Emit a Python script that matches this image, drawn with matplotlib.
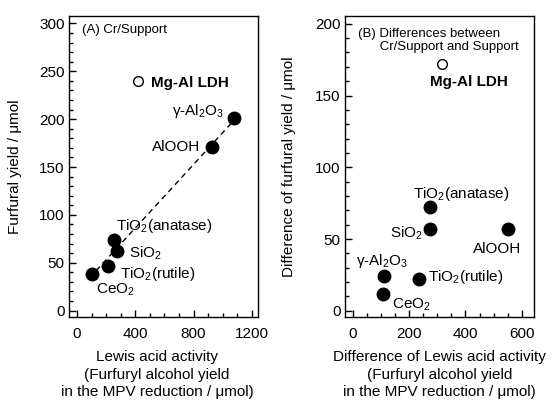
import numpy as np
import matplotlib
matplotlib.use('Agg')
import matplotlib.pyplot as plt
from matplotlib.ticker import MultipleLocator

plt.rcParams['font.family'] = ['Liberation Sans', 'DejaVu Sans']
plt.rcParams['mathtext.fontset'] = 'custom'
plt.rcParams['mathtext.rm'] = 'Liberation Sans'
plt.rcParams['mathtext.bf'] = 'Liberation Sans:bold'
plt.rcParams['mathtext.default'] = 'regular'

FS = 11

# (A) Cr/Support
a_names = ['γ-Al$_2$O$_3$', 'AlOOH', 'TiO$_2$(anatase)', 'SiO$_2$', 'TiO$_2$(rutile)', 'CeO$_2$']
a_lewis = [1075, 930, 256, 276, 215, 101]
a_yield = [201, 171, 74, 62, 47, 38]
a_ldh_lewis = 420
a_ldh_yield = 240

# (B) differences between Cr/Support and Support
b_names = ['γ-Al$_2$O$_3$', 'AlOOH', 'TiO$_2$(anatase)', 'SiO$_2$', 'TiO$_2$(rutile)', 'CeO$_2$']
b_lewis = [110, 552, 275, 275, 234, 109]
b_yield = [24, 57, 72, 57, 22, 12]
b_ldh_lewis = 315
b_ldh_yield = 172

# label offsets in pixels (dx, dy) and alignment
a_offsets = [(-9, 7, 'right'), (-12, 0, 'right'), (2, 14, 'left'),
             (12, -2, 'left'), (12, -8, 'left'), (4, -16, 'left')]
b_offsets = [(-28, 15, 'left'), (-11, -20, 'center'), (-17, 13, 'left'),
             (-7, -4, 'right'), (9, 2, 'left'), (9, -11, 'left')]


def style_axis(ax, xmajor, xminor, ymajor, yminor):
    ax.xaxis.set_major_locator(MultipleLocator(xmajor))
    ax.xaxis.set_minor_locator(MultipleLocator(xminor))
    ax.yaxis.set_major_locator(MultipleLocator(ymajor))
    ax.yaxis.set_minor_locator(MultipleLocator(yminor))
    ax.tick_params(which='both', direction='in', top=False, right=False,
                   labelsize=FS, width=1)
    ax.tick_params(which='major', length=5)
    ax.tick_params(which='minor', length=3)
    ax.tick_params(axis='x', pad=7)
    ax.tick_params(axis='y', pad=3)
    for s in ax.spines.values():
        s.set_linewidth(1)


def draw_points(ax, xs, ys, names, offsets, ldh_x, ldh_y, ldh_off):
    ax.plot(xs, ys, 'o', color='black', markersize=9, zorder=3)
    ax.plot([ldh_x], [ldh_y], 'o', mfc='white', mec='black', mew=1,
            markersize=7, zorder=3)
    for x, y, name, (dx, dy, ha) in zip(xs, ys, names, offsets):
        ax.annotate(name, (x, y), xytext=(dx, dy), textcoords='offset pixels',
                    ha=ha, va='center', fontsize=FS)
    ax.annotate('Mg-Al LDH', (ldh_x, ldh_y), xytext=ldh_off,
                textcoords='offset pixels', ha='left', va='center',
                fontsize=FS, fontweight='bold')


fig = plt.figure(figsize=(5.52, 4.03), dpi=100)
ax1 = fig.add_axes([0.125, 0.2127, 0.342, 0.748])
ax2 = fig.add_axes([0.625, 0.2127, 0.342, 0.748])

# Panel A
fit = np.polyfit(a_lewis, a_yield, 1)
xfit = np.array([min(a_lewis) - 15, max(a_lewis)])
ax1.plot(xfit, np.polyval(fit, xfit), '--', color='black', lw=1,
         dashes=(4, 3), zorder=2)
draw_points(ax1, a_lewis, a_yield, a_names, a_offsets,
            a_ldh_lewis, a_ldh_yield, (13, -2))
ax1.set_xlim(-55, 1241)
ax1.set_ylim(-7, 308)
style_axis(ax1, 400, 100, 50, 10)
ax1.text(0.07, 0.952, '(A) Cr/Support', transform=ax1.transAxes,
         fontsize=9.5, ha='left', va='center')
ax1.set_ylabel('Furfural yield / μmol', fontsize=FS)
ax1.yaxis.set_label_coords(-0.25, 0.5)
ax1.set_xlabel('Lewis acid activity\n(Furfuryl alcohol yield\nin the MPV reduction / μmol)',
               fontsize=FS, linespacing=1.3)
ax1.xaxis.set_label_coords(0.466, -0.11)

# Panel B
draw_points(ax2, b_lewis, b_yield, b_names, b_offsets,
            b_ldh_lewis, b_ldh_yield, (-12, -18))
ax2.set_xlim(-27, 642)
ax2.set_ylim(-4.5, 205.5)
style_axis(ax2, 200, 50, 50, 10)
ax2.text(0.07, 0.918, '(B) Differences between\n      Cr/Support and Support',
         transform=ax2.transAxes, fontsize=9.5, ha='left', va='center',
         linespacing=1.2)
ax2.set_ylabel('Difference of furfural yield / μmol', fontsize=FS)
ax2.yaxis.set_label_coords(-0.26, 0.5)
ax2.set_xlabel('Difference of Lewis acid activity\n(Furfuryl alcohol yield\nin the MPV reduction / μmol)',
               fontsize=FS, linespacing=1.3)
ax2.xaxis.set_label_coords(0.5, -0.11)

fig.savefig('out.png', dpi=100)
